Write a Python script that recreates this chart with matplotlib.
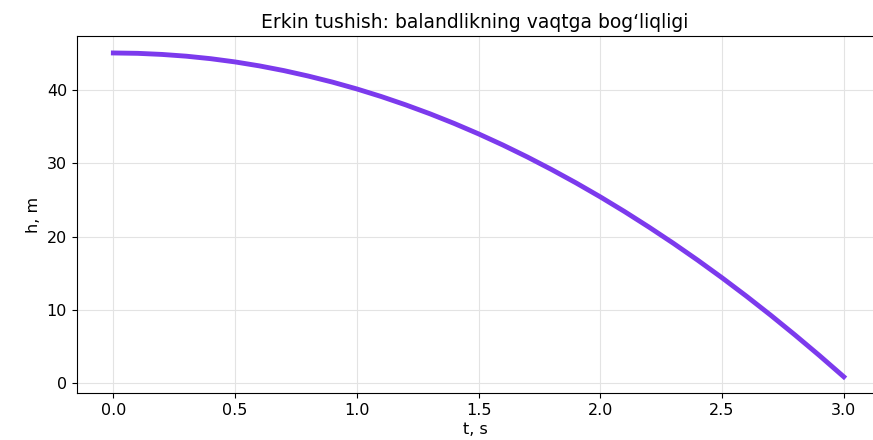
import matplotlib.pyplot as plt

# vaqt (s) va balandlik (m) - grafikdan o'qilgan qiymatlar
t_values = [0.0, 0.1, 0.2, 0.3, 0.4, 0.5, 0.6, 0.7, 0.8, 0.9, 1.0,
            1.1, 1.2, 1.3, 1.4, 1.5, 1.6, 1.7, 1.8, 1.9, 2.0,
            2.1, 2.2, 2.3, 2.4, 2.5, 2.6, 2.7, 2.8, 2.9, 3.0]
h_values = [45.0, 44.95, 44.8, 44.56, 44.22, 43.78, 43.24, 42.6, 41.86, 41.03, 40.1,
            39.07, 37.94, 36.72, 35.4, 33.98, 32.46, 30.84, 29.12, 27.31, 25.4,
            23.39, 21.28, 19.08, 16.78, 14.38, 11.88, 9.28, 6.58, 3.79, 0.9]

fig = plt.figure(figsize=(8.73, 4.4), dpi=100)
ax = fig.add_axes([0.088, 0.107, 0.912, 0.811])

ax.plot(t_values, h_values, color="#7c3aed", linewidth=3.5)
ax.set_title("Erkin tushish: balandlikning vaqtga bog‘liqligi", fontsize=13.5)
ax.set_xlabel("t, s", fontsize=11.5, labelpad=3)
ax.set_ylabel("h, m", fontsize=11.5)
ax.tick_params(labelsize=11.5)
ax.grid(True, color="#e3e3e3", linewidth=0.8)
ax.spines["right"].set_visible(False)
ax.set_xlim(-0.15, 3.12)
ax.set_ylim(-1.3, 47.3)

plt.savefig("out.png", dpi=100)
plt.close()
